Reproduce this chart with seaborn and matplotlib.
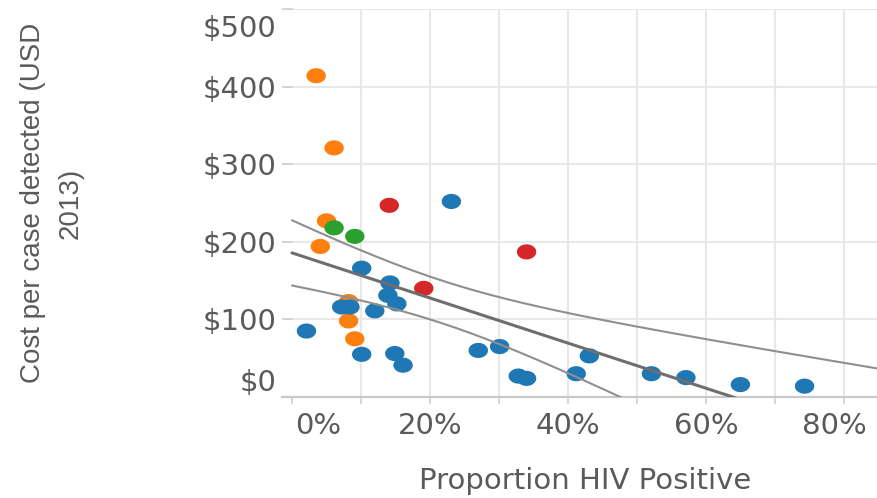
import numpy as np
import pandas as pd
import matplotlib
matplotlib.use("Agg")
import matplotlib.pyplot as plt
import matplotlib.transforms as mtransforms
from matplotlib.path import Path
import seaborn as sns

# ---- data ----
# x: proportion HIV positive (%), y: cost per case detected (USD 2013)
blue_x = [2.1, 10.1, 14.2, 13.9, 15.2, 12.0, 7.2, 8.4, 10.1, 14.9, 16.1, 27.0,
          30.1, 32.8, 34.0, 23.1, 41.2, 43.1, 52.1, 57.1, 65.0, 74.3]
blue_y = [85, 166, 147, 131, 120, 111, 116, 116, 55, 56, 41, 60,
          65, 27, 24, 252, 30, 53, 30, 25, 16, 14]
orange_x = [3.5, 6.1, 5.0, 4.1, 8.2, 8.2, 9.1]
orange_y = [414, 321, 227, 194, 123, 98, 75]
green_x = [6.1, 9.1]
green_y = [218, 207]
red_x = [14.1, 19.1, 34.0]
red_y = [247, 140, 187]

group_names = ["Group 1", "Group 2", "Group 3", "Group 4"]
group_colors = ["#1f77b4", "#ff7f0e", "#2ca02c", "#d62728"]

x_ticks = [0, 10, 20, 30, 40, 50, 60, 70, 80]
x_tick_labels = ["0%", "", "20%", "", "40%", "", "60%", "", "80%"]
y_ticks = [0, 100, 200, 300, 400, 500]
y_tick_labels = ["$0", "$100", "$200", "$300", "$400", "$500"]

x_title = "Proportion HIV Positive"
y_title = "Cost per case detected (USD\n2013)"

# ---- build table ----
frames = []
for name, xs, ys in zip(group_names, [blue_x, orange_x, green_x, red_x],
                        [blue_y, orange_y, green_y, red_y]):
    frames.append(pd.DataFrame({"hiv": xs, "cost": ys, "group": name}))
df = pd.concat(frames, ignore_index=True)
# draw orange beneath blue where they overlap (as in the reference)
order = {"Group 2": 0, "Group 3": 1, "Group 1": 2, "Group 4": 3}
df = df.sort_values("group", key=lambda s: s.map(order), kind="stable")

# ---- linear fit with 95% confidence band of the mean ----
xv = df["hiv"].to_numpy(float)
yv = df["cost"].to_numpy(float)
n = len(xv)
slope, intercept = np.polyfit(xv, yv, 1)
resid = yv - (intercept + slope * xv)
s_err = np.sqrt(np.sum(resid ** 2) / (n - 2))
xbar = xv.mean()
sxx = np.sum((xv - xbar) ** 2)
t_val = 2.037  # t(0.975, df=32)
xs_fit = np.linspace(0, 86, 300)
y_fit = intercept + slope * xs_fit
half = t_val * s_err * np.sqrt(1.0 / n + (xs_fit - xbar) ** 2 / sxx)

# ---- figure ----
sns.set_theme(style="white")
plt.rcParams["font.family"] = ["DejaVu Sans"]
text_color = "#5a5a5a"

fig = plt.figure(figsize=(8.77, 4.98), dpi=100)
ax = fig.add_axes([282 / 877, 1 - 397 / 498, 1 - 282 / 877, (397 - 9) / 498])

theta = np.linspace(0, 2 * np.pi, 60)
ellipse = Path(np.column_stack([np.cos(theta), 0.78 * np.sin(theta)]), closed=True)

sns.scatterplot(data=df, x="hiv", y="cost", hue="group",
                palette=dict(zip(group_names, group_colors)),
                marker=ellipse, s=195, linewidth=0, alpha=1.0,
                legend=False, ax=ax, zorder=3)

ax.plot(xs_fit, y_fit + half, color="#8f8f8f", lw=1.5, zorder=4)
ax.plot(xs_fit, y_fit - half, color="#8f8f8f", lw=1.5, zorder=4)
ax.plot(xs_fit, y_fit, color="#6e6e6e", lw=2.2, zorder=5)

ax.set_xlim(-1.45, 84.8)
ax.set_ylim(0, 500)

ax.set_xticks(x_ticks)
ax.set_xticklabels(x_tick_labels)
ax.set_yticks(y_ticks)
ax.set_yticklabels(y_tick_labels)

ax.grid(True, color="#e8e8e8", lw=1.5, zorder=0)
ax.set_axisbelow(True)
ax.xaxis.get_gridlines()[0].set_visible(False)

for side in ["left", "right", "top"]:
    ax.spines[side].set_visible(False)
ax.spines["bottom"].set_color("#c9c9c9")
ax.spines["bottom"].set_linewidth(1.6)

ax.tick_params(axis="x", direction="out", length=5, width=1.2, color="#d0d0d0",
               pad=6, labelsize=21, labelcolor=text_color, bottom=True)
ax.tick_params(axis="y", direction="in", length=8, width=1.2, color="#d0d0d0",
               pad=4, labelsize=21, labelcolor=text_color, left=True)

# flush first/last labels inside the axis range
xl = ax.get_xticklabels()
xl[0].set_ha("left")
xl[0].set_transform(xl[0].get_transform() +
                    mtransforms.ScaledTranslation(2 / 72, 0, fig.dpi_scale_trans))
xl[-1].set_transform(xl[-1].get_transform() +
                     mtransforms.ScaledTranslation(-7 / 72, 0, fig.dpi_scale_trans))
yl = ax.get_yticklabels()
yl[0].set_va("bottom")
yl[-1].set_va("top")
yl[-1].set_transform(yl[-1].get_transform() +
                     mtransforms.ScaledTranslation(0, -4 / 72, fig.dpi_scale_trans))

ax.set_xlabel(x_title, fontsize=21, color=text_color, va="center")
ax.xaxis.set_label_coords((585 - 282) / 595, (397 - 481) / 388)
ax.set_ylabel(y_title, fontsize=20, color=text_color, va="center",
              family=["Liberation Sans", "DejaVu Sans"], linespacing=1.6)
ax.yaxis.set_label_coords((52 - 282) / 595, (397 - 203) / 388)

fig.savefig("out.png", dpi=100)
